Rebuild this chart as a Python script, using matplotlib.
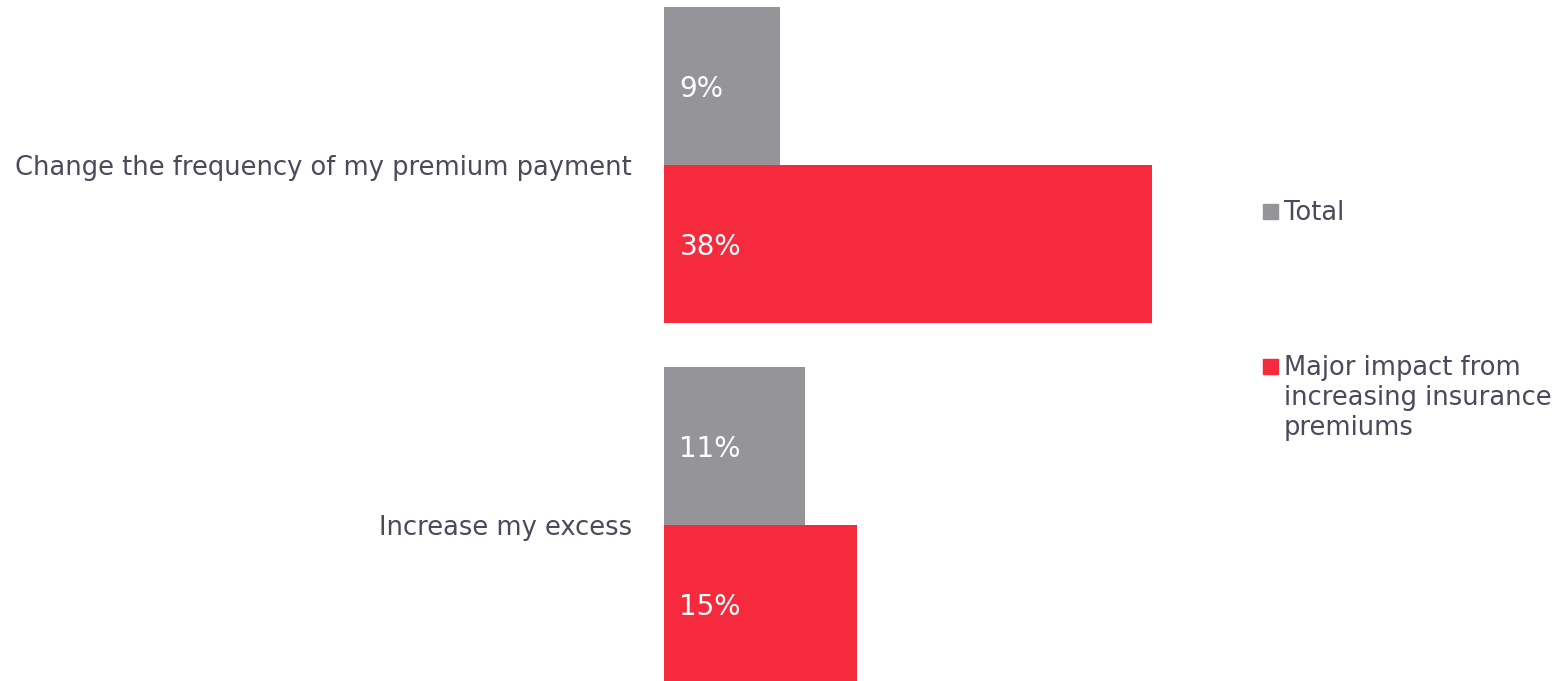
import matplotlib.pyplot as plt
from matplotlib.patches import Rectangle

categories = ['Change the frequency of my premium payment', 'Increase my excess']
total = [9, 11]
major_impact = [38, 15]
series_names = ['Total', 'Major impact from\nincreasing insurance\npremiums']

grey = '#959498'
red = '#F52A3C'
text_col = '#4A4A5A'

W, H = 1567, 681
fig = plt.figure(figsize=(W / 100, H / 100), dpi=100)
ax = fig.add_axes([664 / W, 0, 1 - 664 / W, 1])

# group centres are 360px apart, each bar 158px tall
bar_h = 158 / 360
nudge = 3 / 360  # push text down a touch
pos = list(range(len(categories)))
ax.barh([p - bar_h / 2 for p in pos], total, height=bar_h, color=grey)
ax.barh([p + bar_h / 2 for p in pos], major_impact, height=bar_h, color=red)

ax.set_xlim(0, (W - 664) / (488 / 38))
ax.set_ylim(1 + 156 / 360, -165 / 360)
ax.axis('off')

fs = 18.5
for p, t, m in zip(pos, total, major_impact):
    ax.text(1.2, p - bar_h / 2 + nudge, f'{t}%', color='white', fontsize=20, va='center', ha='left')
    ax.text(1.2, p + bar_h / 2 + nudge, f'{m}%', color='white', fontsize=20, va='center', ha='left')

for p, c in zip(pos, categories):
    ax.text(-2.5, p + nudge, c, color=text_col, fontsize=fs, va='center', ha='right')

# legend
leg_y = [212, 367]
for y, name, col in zip(leg_y, series_names, [grey, red]):
    fig.patches.append(Rectangle((1263 / W, 1 - (y + 7) / H), 15 / W, 15 / H,
                                 transform=fig.transFigure, color=col))
    fig.text(1284 / W, 1 - (y - 12) / H, name, color=text_col, fontsize=fs,
             va='top', ha='left', linespacing=1.2)

fig.savefig('out.png', dpi=100)
